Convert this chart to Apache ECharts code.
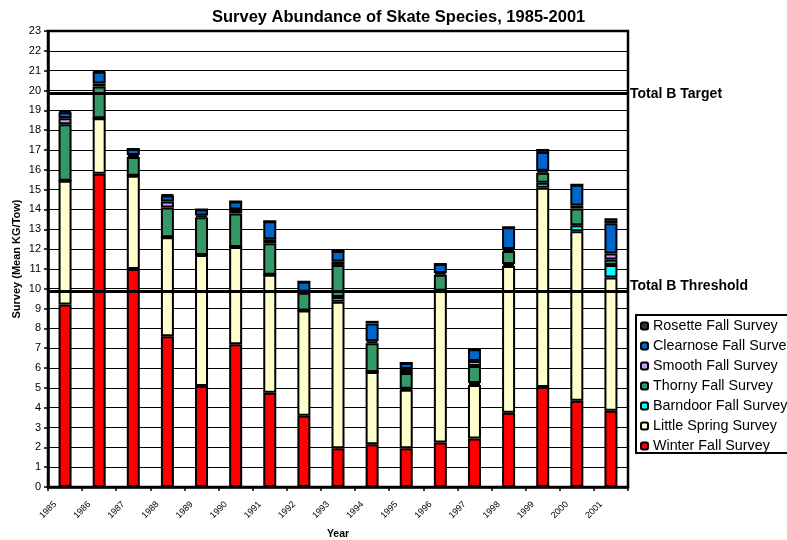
<!DOCTYPE html>
<html>
<head>
<meta charset="utf-8">
<script src="https://cdn.jsdelivr.net/npm/echarts@6/dist/echarts.min.js"></script>
<style>html,body{margin:0;padding:0;background:#fff;}#c{width:787px;height:540px;}</style>
</head>
<body>
<div id="c"></div>
<script>
var years = ['1985','1986','1987','1988','1989','1990','1991','1992','1993','1994','1995','1996','1997','1998','1999','2000','2001'];
var winter    = [9.2,15.8,11.0,7.6,5.1,7.2,4.75,3.6,1.95,2.15,1.95,2.25,2.45,3.75,5.05,4.35,3.85];
var little    = [6.25,2.8,4.7,5.0,6.6,4.9,5.95,5.3,7.4,3.65,2.95,7.65,2.7,7.4,10.05,8.55,6.72];
var barndoor  = [0,0,0,0,0,0,0,0,0.23,0,0.05,0,0.1,0.1,0.25,0.3,0.63];
var thorny    = [2.85,1.6,0.95,1.5,1.9,1.7,1.6,0.9,1.62,1.45,0.8,0.8,0.85,0.65,0.5,0.85,0.28];
var smooth    = [0.3,0.15,0.1,0.3,0.1,0.2,0.2,0.05,0.18,0.1,0.2,0.1,0.25,0.1,0.1,0.15,0.3];
var clearnose = [0.3,0.6,0.3,0.3,0.3,0.4,0.9,0.5,0.52,0.9,0.3,0.45,0.6,1.1,0.95,1.05,1.52];
var rosette   = [0.05,0.05,0,0.05,0,0,0,0,0,0.13,0,0,0,0,0.15,0,0.25];
var targetValue = 19.84;
var thresholdValue = 9.85;

var FONT = "'Liberation Sans', Arial, sans-serif";
var chart = echarts.init(document.getElementById('c'), null, {renderer: 'canvas'});

function bar(name, data, color, extra) {
  var s = {
    name: name, type: 'bar', stack: 'total', data: data, barWidth: 13,
    itemStyle: {color: color, borderColor: '#000', borderWidth: 2},
    emphasis: {disabled: true}, animation: false
  };
  if (extra) for (var k in extra) s[k] = extra[k];
  return s;
}

var markLine = {
  symbol: 'none', silent: true, animation: false,
  lineStyle: {color: '#000', width: 3, type: 'solid'},
  data: [
    {yAxis: targetValue, label: {formatter: 'Total B Target'}},
    {yAxis: thresholdValue, label: {formatter: 'Total B Threshold', offset: [0, -6]}}
  ],
  label: {show: true, position: 'end', distance: 2, color: '#000', fontWeight: 'bold', fontSize: 14, fontFamily: FONT}
};

var option = {
  animation: false,
  textStyle: {fontFamily: FONT, color: '#000'},
  title: {
    text: 'Survey Abundance of Skate Species, 1985-2001',
    left: 207, top: 4,
    textStyle: {fontSize: 16.5, fontWeight: 'bold', color: '#000', fontFamily: FONT}
  },
  grid: {left: 48, right: 159, top: 31, bottom: 53, outerBoundsMode: 'none', containLabel: false,
    show: true, borderColor: '#000', borderWidth: 2.5, backgroundColor: 'transparent'},
  legend: {
    orient: 'vertical', left: 636, top: 315,
    data: ['Rosette Fall Survey','Clearnose Fall Survey','Smooth Fall Survey','Thorny Fall Survey','Barndoor Fall Survey','Little Spring Survey','Winter Fall Survey'],
    itemWidth: 7, itemHeight: 7, itemGap: 6,
    borderColor: '#000', borderWidth: 2, padding: [4, 4, 0, 4],
    textStyle: {fontSize: 14.3, color: '#000', fontFamily: FONT},
    selectedMode: false
  },
  xAxis: {
    type: 'category', data: years,
    name: 'Year', nameLocation: 'middle', nameGap: 42, nameMoveOverlap: false,
    nameTextStyle: {fontWeight: 'bold', fontSize: 10.5, color: '#000', fontFamily: FONT},
    axisLine: {lineStyle: {color: '#000', width: 2.5}},
    axisTick: {show: true, length: 4, lineStyle: {color: '#000', width: 1.5}},
    axisLabel: {rotate: 45, fontSize: 9, color: '#000', margin: 6, padding: [0, 14, 0, 0],
      fontFamily: "'Liberation Sans Narrow', 'Liberation Sans', sans-serif", interval: 0},
    splitLine: {show: false}
  },
  yAxis: {
    type: 'value', min: 0, max: 23, interval: 1,
    name: 'Survey (Mean KG/Tow)', nameLocation: 'middle', nameGap: 26, nameMoveOverlap: false,
    nameTextStyle: {fontWeight: 'bold', fontSize: 11, color: '#000', fontFamily: FONT},
    axisLine: {show: true, lineStyle: {color: '#000', width: 2.5}},
    axisTick: {show: true, length: 4, lineStyle: {color: '#000', width: 1.5}},
    axisLabel: {fontSize: 11, color: '#000', margin: 7},
    splitLine: {show: true, lineStyle: {color: '#000', width: 1.2}}
  },
  series: [
    bar('Winter Fall Survey', winter, '#FF0000', {markLine: markLine}),
    bar('Little Spring Survey', little, '#FFFFCC'),
    bar('Barndoor Fall Survey', barndoor, '#00FFFF'),
    bar('Thorny Fall Survey', thorny, '#339966'),
    bar('Smooth Fall Survey', smooth, '#CC99FF'),
    bar('Clearnose Fall Survey', clearnose, '#0066CC'),
    bar('Rosette Fall Survey', rosette, '#333333')
  ]
};
chart.setOption(option);
</script>
</body>
</html>
